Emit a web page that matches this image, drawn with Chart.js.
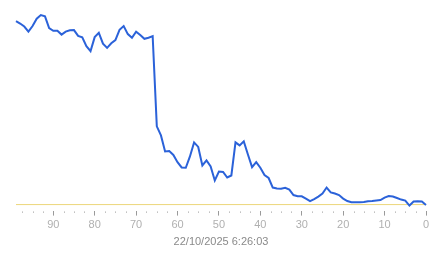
<!DOCTYPE html>
<html>
<head>
<meta charset="utf-8">
<script src="https://cdn.jsdelivr.net/npm/chart.js@4/dist/chart.umd.min.js"></script>
<style>
html,body{margin:0;padding:0;background:#fff;}
#wrap{width:443px;height:258px;}
</style>
</head>
<body>
<div id="wrap"><canvas id="c" width="443" height="258"></canvas></div>
<script>
// Age of each sample (left = oldest)
const ages = [99,98,97,96,95,94,93,92,91,90,89,88,87,86,85,84,83,82,81,80,
  79,78,77,76,75,74,73,72,71,70,69,68,67,66,65,64,63,62,61,60,
  59,58,57,56,55,54,53,52,51,50,49,48,47,46,45,44,43,42,41,40,
  39,38,37,36,35,34,33,32,31,30,29,28,27,26,25,24,23,22,21,20,
  19,18,17,16,15,14,13,12,11,10,9,8,7,6,5,4,3,2,1,0];
// Series values (same order as ages)
const values = [183,180.5,177.5,172.5,178,185.3,189,187.7,176,173.3,173.3,169.5,172.5,173.8,174,168.2,166.7,158,153,167,
  171.2,160.5,156.3,160.8,164,174.3,178,170,166.3,172.4,169,165.3,166.3,168,78,69,53,53.3,49.5,42.3,
  37,36.7,48,62,57.5,39,44,38,24,33,32.5,27,29,62,59,63,50,37.3,42.3,36.7,
  29.5,26.5,17,16,15.7,16.7,15,9.5,8.3,8.3,6,3.5,5.5,8,11,17,12.2,11,9.5,6,
  3.5,2.3,2.3,2.3,2.5,3.3,3.5,4,4.5,7,8.5,8,6.5,5,4,-1,3,3.3,3,-0.5];
// Reference baseline
const baselineAges = [99,0];
const baselineValues = [0,0];
// Axis
const xMin = 0, xMax = 99;
const majorStep = 10, minorStep = 2.5;
const axisTitle = "22/10/2025 6:26:03";

const minorTicks = {
  id: 'minorTicks',
  afterDraw(chart) {
    const sx = chart.scales.x;
    const ctx = chart.ctx;
    const yb = chart.chartArea.bottom;
    ctx.save();
    ctx.fillStyle = '#9a9a9a';
    for (let v = minorStep; v < xMax; v += minorStep) {
      if (Math.abs(v % majorStep) < 1e-6) continue;
      const px = Math.round(sx.getPixelForValue(v));
      ctx.fillRect(px, yb + 1, 1, 1);
    }
    ctx.restore();
  }
};

new Chart(document.getElementById('c'), {
  type: 'line',
  data: {
    datasets: [
      {
        data: ages.map((a, i) => ({x: a, y: values[i]})),
        borderColor: '#2b62d9',
        borderWidth: 2,
        pointRadius: 0,
        tension: 0,
        fill: false,
        clip: false
      },
      {
        data: baselineAges.map((a, i) => ({x: a, y: baselineValues[i]})),
        borderColor: '#ecd67a',
        borderWidth: 1,
        pointRadius: 0,
        tension: 0,
        fill: false
      }
    ]
  },
  plugins: [minorTicks],
  options: {
    responsive: false,
    animation: false,
    devicePixelRatio: 1,
    layout: {padding: {top: 4, left: 16, right: 17, bottom: 9}},
    plugins: {legend: {display: false}, tooltip: {enabled: false}},
    scales: {
      x: {
        type: 'linear',
        reverse: true,
        min: xMin,
        max: xMax,
        border: {display: false},
        grid: {drawOnChartArea: false, drawTicks: true, tickLength: 5, tickColor: '#9a9a9a', tickWidth: 1},
        ticks: {
          stepSize: majorStep,
          autoSkip: false,
          maxRotation: 0,
          padding: 3,
          color: '#b0b0b0',
          font: {family: 'Liberation Sans', size: 11},
          callback: (v) => (v % majorStep === 0 ? String(v) : '')
        },
        afterBuildTicks: (scale) => {
          scale.ticks = scale.ticks.filter(t => t.value % majorStep === 0);
        },
        title: {
          display: true,
          text: axisTitle,
          color: '#8a8a8a',
          font: {family: 'Liberation Sans', size: 11},
          padding: {top: 1, bottom: 0}
        }
      },
      y: {
        display: false,
        min: -6,
        max: 200
      }
    }
  }
});
</script>
</body>
</html>
